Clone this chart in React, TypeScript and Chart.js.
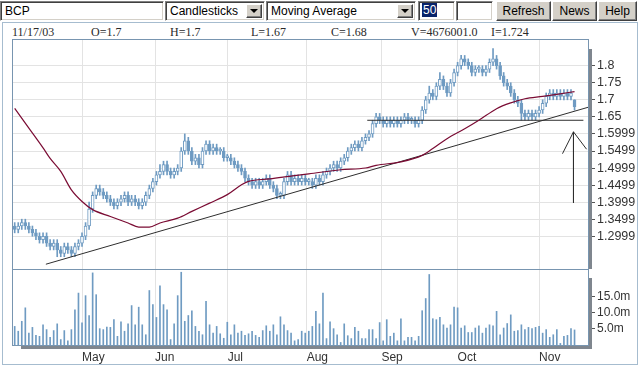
import React, { useEffect, useRef } from 'react';
import { Chart, registerables } from 'chart.js';

Chart.register(...registerables);

// ---- Data, trading-day index 0..158 ----
const opens = [
  1.33, 1.32, 1.33, 1.34, 1.33, 1.32, 1.31, 1.30, 1.29, 1.30,
  1.28, 1.27, 1.28, 1.26, 1.25, 1.27, 1.26, 1.25, 1.27, 1.28,
  1.30, 1.33, 1.38, 1.42, 1.44, 1.43, 1.42, 1.41, 1.40, 1.39,
  1.40, 1.41, 1.42, 1.40, 1.41, 1.40, 1.39, 1.40, 1.42, 1.44,
  1.46, 1.48, 1.49, 1.51, 1.49, 1.48, 1.49, 1.50, 1.55, 1.58,
  1.55, 1.52, 1.53, 1.51, 1.55, 1.57, 1.55, 1.56, 1.55, 1.55,
  1.53, 1.53, 1.52, 1.51, 1.50, 1.49, 1.47, 1.46, 1.45, 1.46,
  1.45, 1.46, 1.47, 1.45, 1.44, 1.42, 1.42, 1.46, 1.48, 1.46,
  1.47, 1.46, 1.47, 1.46, 1.46, 1.45, 1.47, 1.46, 1.48, 1.49,
  1.50, 1.51, 1.50, 1.52, 1.53, 1.55, 1.56, 1.57, 1.56, 1.58,
  1.59, 1.60, 1.63, 1.65, 1.64, 1.63, 1.64, 1.63, 1.64, 1.63,
  1.64, 1.65, 1.64, 1.64, 1.63, 1.64, 1.67, 1.70, 1.72, 1.71,
  1.74, 1.76, 1.74, 1.72, 1.75, 1.78, 1.80, 1.82, 1.81, 1.80,
  1.78, 1.79, 1.79, 1.78, 1.79, 1.81, 1.82, 1.80, 1.77, 1.75,
  1.74, 1.72, 1.70, 1.69, 1.66, 1.65, 1.66, 1.65, 1.66, 1.67,
  1.69, 1.71, 1.72, 1.71, 1.72, 1.71, 1.72, 1.71, 1.70,
];
const highs = [
  1.34, 1.34, 1.35, 1.35, 1.34, 1.33, 1.32, 1.31, 1.31, 1.31,
  1.29, 1.29, 1.29, 1.27, 1.28, 1.28, 1.27, 1.28, 1.29, 1.31,
  1.34, 1.40, 1.43, 1.45, 1.45, 1.44, 1.43, 1.42, 1.41, 1.41,
  1.42, 1.43, 1.43, 1.42, 1.42, 1.41, 1.41, 1.43, 1.45, 1.47,
  1.49, 1.51, 1.52, 1.52, 1.50, 1.50, 1.51, 1.56, 1.60, 1.59,
  1.56, 1.54, 1.54, 1.56, 1.58, 1.58, 1.57, 1.57, 1.56, 1.56,
  1.54, 1.54, 1.53, 1.52, 1.51, 1.50, 1.48, 1.47, 1.47, 1.47,
  1.47, 1.48, 1.48, 1.46, 1.45, 1.43, 1.47, 1.49, 1.49, 1.48,
  1.48, 1.48, 1.48, 1.47, 1.47, 1.48, 1.48, 1.49, 1.50, 1.51,
  1.52, 1.52, 1.53, 1.54, 1.56, 1.57, 1.58, 1.58, 1.59, 1.60,
  1.61, 1.64, 1.66, 1.66, 1.65, 1.65, 1.65, 1.65, 1.65, 1.65,
  1.66, 1.66, 1.65, 1.65, 1.65, 1.68, 1.71, 1.74, 1.73, 1.75,
  1.78, 1.77, 1.75, 1.76, 1.79, 1.81, 1.83, 1.83, 1.82, 1.81,
  1.80, 1.80, 1.80, 1.80, 1.82, 1.85, 1.83, 1.81, 1.78, 1.76,
  1.75, 1.73, 1.71, 1.70, 1.67, 1.67, 1.67, 1.67, 1.68, 1.70,
  1.72, 1.73, 1.73, 1.73, 1.73, 1.73, 1.73, 1.73, 1.70,
];
const lows = [
  1.31, 1.31, 1.32, 1.32, 1.31, 1.30, 1.29, 1.28, 1.28, 1.27,
  1.26, 1.26, 1.24, 1.24, 1.24, 1.25, 1.24, 1.24, 1.26, 1.27,
  1.29, 1.32, 1.37, 1.41, 1.42, 1.41, 1.40, 1.39, 1.38, 1.38,
  1.39, 1.40, 1.39, 1.39, 1.39, 1.38, 1.38, 1.39, 1.41, 1.43,
  1.45, 1.47, 1.48, 1.48, 1.47, 1.47, 1.48, 1.49, 1.54, 1.54,
  1.51, 1.51, 1.50, 1.50, 1.54, 1.54, 1.54, 1.54, 1.54, 1.52,
  1.52, 1.51, 1.50, 1.49, 1.48, 1.46, 1.45, 1.44, 1.44, 1.44,
  1.44, 1.45, 1.44, 1.43, 1.41, 1.41, 1.41, 1.45, 1.45, 1.45,
  1.45, 1.45, 1.45, 1.45, 1.44, 1.44, 1.45, 1.45, 1.47, 1.48,
  1.49, 1.49, 1.49, 1.51, 1.52, 1.54, 1.55, 1.55, 1.55, 1.57,
  1.58, 1.59, 1.62, 1.63, 1.62, 1.62, 1.62, 1.62, 1.62, 1.62,
  1.63, 1.63, 1.63, 1.62, 1.62, 1.63, 1.66, 1.69, 1.70, 1.70,
  1.73, 1.73, 1.71, 1.71, 1.74, 1.77, 1.79, 1.80, 1.79, 1.77,
  1.77, 1.78, 1.77, 1.77, 1.78, 1.80, 1.79, 1.76, 1.74, 1.73,
  1.71, 1.69, 1.68, 1.64, 1.64, 1.64, 1.64, 1.64, 1.65, 1.66,
  1.68, 1.70, 1.70, 1.70, 1.70, 1.70, 1.70, 1.70, 1.67,
];
const closes = [
  1.32, 1.33, 1.34, 1.33, 1.32, 1.31, 1.30, 1.29, 1.30, 1.28,
  1.27, 1.28, 1.26, 1.25, 1.27, 1.26, 1.25, 1.27, 1.28, 1.30,
  1.33, 1.38, 1.42, 1.44, 1.43, 1.42, 1.41, 1.40, 1.39, 1.40,
  1.41, 1.42, 1.40, 1.41, 1.40, 1.39, 1.40, 1.42, 1.44, 1.46,
  1.48, 1.49, 1.51, 1.49, 1.48, 1.49, 1.50, 1.55, 1.58, 1.55,
  1.52, 1.53, 1.51, 1.55, 1.57, 1.55, 1.56, 1.55, 1.55, 1.53,
  1.53, 1.52, 1.51, 1.50, 1.49, 1.47, 1.46, 1.45, 1.46, 1.45,
  1.46, 1.47, 1.45, 1.44, 1.42, 1.42, 1.46, 1.48, 1.46, 1.47,
  1.46, 1.47, 1.46, 1.46, 1.45, 1.47, 1.46, 1.48, 1.49, 1.50,
  1.51, 1.50, 1.52, 1.53, 1.55, 1.56, 1.57, 1.56, 1.58, 1.59,
  1.60, 1.63, 1.65, 1.64, 1.63, 1.64, 1.63, 1.64, 1.63, 1.64,
  1.65, 1.64, 1.64, 1.63, 1.64, 1.67, 1.70, 1.72, 1.71, 1.74,
  1.76, 1.74, 1.72, 1.75, 1.78, 1.80, 1.82, 1.81, 1.80, 1.78,
  1.79, 1.79, 1.78, 1.79, 1.81, 1.82, 1.80, 1.77, 1.75, 1.74,
  1.72, 1.70, 1.69, 1.66, 1.65, 1.66, 1.65, 1.66, 1.67, 1.69,
  1.71, 1.72, 1.71, 1.72, 1.71, 1.72, 1.71, 1.72, 1.68,
];
// volume in millions
const volumes = [
  5.8, 4.3, 7.4, 11.6, 3.7, 5.5, 3.0, 2.7, 6.3, 4.8,
  2.4, 4.5, 6.6, 1.7, 4.5, 1.3, 4.8, 11.0, 16.2, 6.9,
  15.4, 9.2, 22.5, 15.7, 5.1, 4.8, 5.6, 5.5, 7.9, 2.7,
  7.2, 4.3, 6.6, 12.3, 6.3, 11.8, 6.3, 3.2, 17.0, 12.6,
  8.6, 18.5, 12.6, 11.0, 1.7, 6.6, 15.4, 22.7, 7.4, 9.2,
  10.7, 5.8, 4.3, 3.2, 13.6, 6.3, 3.7, 5.8, 3.5, 2.1,
  7.1, 3.2, 6.3, 3.7, 4.3, 3.0, 3.5, 4.3, 3.0, 2.4,
  4.5, 6.0, 4.3, 6.3, 3.2, 8.8, 6.3, 4.5, 3.7, 1.3,
  1.7, 4.3, 3.7, 4.3, 5.8, 10.5, 6.6, 16.2, 2.0, 7.2,
  5.1, 3.2, 0.8, 6.6, 2.9, 2.0, 5.5, 4.3, 2.0, 2.0,
  4.8, 4.8, 2.0, 7.0, 1.3, 7.9, 2.7, 3.7, 1.3, 8.2,
  1.3, 2.4, 2.4, 1.3, 2.7, 10.7, 14.5, 22.0, 8.2, 7.9,
  8.6, 6.3, 5.3, 6.3, 11.8, 11.6, 5.3, 6.0, 3.9, 3.9,
  5.3, 6.0, 3.7, 5.3, 6.3, 6.0, 10.5, 3.2, 5.3, 6.7,
  9.4, 4.3, 4.5, 6.3, 4.8, 5.5, 5.1, 5.5, 5.8, 3.7,
  4.8, 2.4, 3.2, 4.8, 0.5, 2.7, 3.0, 5.1, 4.7,
];
// 50-day moving average, read at selected days
const maDays = [0, 4, 8, 10, 13, 16, 19, 22, 27, 32, 35, 38, 41, 46, 50, 55, 60, 64, 66, 72, 79, 83, 92, 99, 102, 109, 115, 118, 122, 127, 131, 136, 140, 144, 149, 153, 158];
const maValues = [1.675, 1.617, 1.559, 1.528, 1.49, 1.436, 1.402, 1.378, 1.358, 1.339, 1.327, 1.327, 1.339, 1.353, 1.373, 1.397, 1.422, 1.451, 1.461, 1.468, 1.478, 1.483, 1.495, 1.5, 1.508, 1.518, 1.537, 1.557, 1.586, 1.615, 1.64, 1.674, 1.691, 1.703, 1.71, 1.716, 1.724];
// drawn annotations: support trend line, resistance line, arrow
const trendDays = [8.8, 161.8];
const trendValues = [1.218, 1.678];
const resistDays = [99.5, 160.5];
const resistValues = [1.64, 1.64];
const arrowDays = [154.6, 157.7, 157.7, 157.7, 157.7, 161.4];
const arrowValues = [1.542, 1.606, 1.398, null, 1.606, 1.555];

const monthLabels = ['May', 'Jun', 'Jul', 'Aug', 'Sep', 'Oct', 'Nov'];
const monthStarts = [19, 39.6, 60.1, 82.4, 103.5, 125, 148];
const priceTicks = [1.2999, 1.3499, 1.3999, 1.4499, 1.4999, 1.5499, 1.5999, 1.65, 1.7, 1.75, 1.8];
const priceTickLabels = ['1.2999', '1.3499', '1.3999', '1.4499', '1.4999', '1.5499', '1.5999', '1.65', '1.7', '1.75', '1.8'];
const volTicks = [5, 10, 15];
const volTickLabels = ['5.0m', '10.0m', '15.0m'];

const infoItems = ['11/17/03', 'O=1.7', 'H=1.7', 'L=1.67', 'C=1.68', 'V=4676001.0', 'I=1.724'];

const CANDLE = '#6f9bc2';
const GRID = '#e3e3e3';
const MA_COLOR = '#7a0b33';
const LINE_DARK = '#2e2e2e';
const FRAME = '#7895b0';
const SHADOW = '#7f868e';
const SANS = '"Liberation Sans", Arial, Helvetica, sans-serif';
const X_MIN = -0.76;
const X_MAX = 161.8;

const monthTicksHook = (axis: any) => {
  axis.ticks = monthStarts.map((v) => ({ value: v }));
};
const noPad = (a: any) => {
  a.paddingLeft = 0;
  a.paddingRight = 0;
  a.paddingTop = 0;
  a.paddingBottom = 0;
};

const insetBox: React.CSSProperties = {
  position: 'absolute',
  boxSizing: 'border-box',
  background: '#fff',
  borderTop: '1px solid #808080',
  borderLeft: '1px solid #808080',
  borderBottom: '1px solid #ffffff',
  borderRight: '1px solid #ffffff',
  boxShadow: 'inset 1px 1px 0 #404040, inset -1px -1px 0 #d4d0c8',
  font: `12px ${SANS}`,
  color: '#000',
  top: 1,
  height: 20,
  whiteSpace: 'nowrap',
  overflow: 'hidden',
};

const raised: React.CSSProperties = {
  position: 'absolute',
  boxSizing: 'border-box',
  background: '#d4d0c8',
  borderTop: '1px solid #ffffff',
  borderLeft: '1px solid #ffffff',
  borderBottom: '1px solid #404040',
  borderRight: '1px solid #404040',
  boxShadow: 'inset -1px -1px 0 #808080',
  font: `12px ${SANS}`,
  color: '#000',
  display: 'flex',
  alignItems: 'center',
  justifyContent: 'center',
};

function DropButton() {
  return (
    <div style={{ ...raised, right: 2, top: 2, width: 16, height: 14 }}>
      <div style={{ width: 0, height: 0, borderLeft: '4px solid transparent', borderRight: '4px solid transparent', borderTop: '4px solid #000' }} />
    </div>
  );
}

export default function App() {
  const priceRef = useRef<HTMLCanvasElement>(null);
  const volRef = useRef<HTMLCanvasElement>(null);

  useEffect(() => {
    const idx = closes.map((_, i) => i);
    const tickFont = { family: SANS, size: 12.5 };

    const priceChart = new Chart(priceRef.current!, {
      type: 'bar',
      data: {
        datasets: [
          {
            type: 'line',
            data: maDays.map((d, i) => ({ x: d, y: maValues[i] })),
            borderColor: MA_COLOR,
            borderWidth: 1.2,
            pointRadius: 0,
            cubicInterpolationMode: 'monotone',
            order: 0,
          } as any,
          {
            type: 'line',
            data: trendDays.map((d, i) => ({ x: d, y: trendValues[i] })),
            borderColor: LINE_DARK,
            borderWidth: 1,
            pointRadius: 0,
            order: 0,
          } as any,
          {
            type: 'line',
            data: resistDays.map((d, i) => ({ x: d, y: resistValues[i] })),
            borderColor: LINE_DARK,
            borderWidth: 1,
            pointRadius: 0,
            order: 0,
          } as any,
          {
            type: 'line',
            data: arrowDays.map((d, i) => ({ x: d, y: arrowValues[i] })),
            borderColor: LINE_DARK,
            borderWidth: 1,
            pointRadius: 0,
            spanGaps: false,
            order: 0,
          } as any,
          {
            type: 'bar',
            data: idx.map((i) => ({ x: i, y: [Math.min(opens[i], closes[i]), Math.max(opens[i], closes[i])] })),
            backgroundColor: idx.map((i) => (closes[i] >= opens[i] ? '#ffffff' : CANDLE)),
            borderColor: CANDLE,
            borderWidth: 1,
            borderSkipped: false,
            barThickness: 3,
            minBarLength: 2,
            grouped: false,
            order: 1,
          } as any,
          {
            type: 'bar',
            data: idx.map((i) => ({ x: i, y: [lows[i], highs[i]] })),
            backgroundColor: CANDLE,
            borderWidth: 0,
            barThickness: 1,
            grouped: false,
            order: 2,
          } as any,
        ],
      },
      options: {
        animation: false,
        responsive: false,
        devicePixelRatio: 1,
        events: [],
        layout: { padding: { left: 12, top: 1, right: 0, bottom: 0 } },
        plugins: { legend: { display: false }, tooltip: { enabled: false } },
        scales: {
          x: {
            type: 'linear',
            offset: false,
            min: X_MIN,
            max: X_MAX,
            afterBuildTicks: monthTicksHook,
            afterFit: (a: any) => { a.height = 0; noPad(a); },
            ticks: { display: false, autoSkip: false },
            grid: { color: GRID, drawTicks: false, offset: false },
            border: { display: false },
          },
          y: {
            position: 'right',
            min: 1.204,
            max: 1.8753,
            afterBuildTicks: (a: any) => { a.ticks = priceTicks.map((v) => ({ value: v })); },
            afterFit: (a: any) => { a.width = 50; noPad(a); },
            ticks: {
              autoSkip: false,
              padding: 2,
              color: '#333',
              font: tickFont,
              callback: (_v: any, i: number) => priceTickLabels[i],
            },
            grid: { color: GRID, tickColor: '#555', tickLength: 7, drawTicks: true },
            border: { display: false },
          },
        },
      } as any,
    });

    const volChart = new Chart(volRef.current!, {
      type: 'bar',
      data: {
        datasets: [
          {
            data: idx.map((i) => ({ x: i, y: volumes[i] })),
            backgroundColor: CANDLE,
            borderWidth: 0,
            barThickness: 1,
          } as any,
        ],
      },
      options: {
        animation: false,
        responsive: false,
        devicePixelRatio: 1,
        events: [],
        layout: { padding: { left: 12, top: 1, right: 0, bottom: 0 } },
        plugins: { legend: { display: false }, tooltip: { enabled: false } },
        scales: {
          x: {
            type: 'linear',
            offset: false,
            min: X_MIN,
            max: X_MAX,
            afterBuildTicks: monthTicksHook,
            afterFit: (a: any) => { a.height = 20; noPad(a); },
            ticks: {
              autoSkip: false,
              maxRotation: 0,
              align: 'start',
              padding: 5,
              color: '#333',
              font: { family: SANS, size: 12 },
              callback: (_v: any, i: number) => monthLabels[i],
            },
            grid: { color: GRID, drawTicks: false, offset: false },
            border: { display: false },
          },
          y: {
            position: 'right',
            min: 0,
            max: 23.4,
            afterBuildTicks: (a: any) => { a.ticks = volTicks.map((v) => ({ value: v })); },
            afterFit: (a: any) => { a.width = 50; noPad(a); },
            ticks: {
              autoSkip: false,
              padding: 2,
              color: '#333',
              font: { family: SANS, size: 12 },
              callback: (_v: any, i: number) => volTickLabels[i],
            },
            grid: { drawOnChartArea: false, tickColor: '#555', tickLength: 7, drawTicks: true },
            border: { display: false },
          },
        },
      } as any,
    });

    return () => {
      priceChart.destroy();
      volChart.destroy();
    };
  }, []);

  const infoX = [12, 91, 170, 251, 331, 411, 491];

  return (
    <div style={{ position: 'fixed', left: 0, top: 0, width: 638, height: 365, background: '#fff', overflow: 'hidden' }}>
      {/* toolbar */}
      <div style={{ ...insetBox, left: 0, width: 164, paddingLeft: 4, lineHeight: '18px' }}>BCP</div>
      <div style={{ ...insetBox, left: 165, width: 100, paddingLeft: 4, lineHeight: '18px' }}>
        Candlesticks
        <DropButton />
      </div>
      <div style={{ ...insetBox, left: 266, width: 150, paddingLeft: 4, lineHeight: '18px' }}>
        Moving Average
        <DropButton />
      </div>
      <div style={{ ...insetBox, left: 418, width: 37, paddingLeft: 3 }}>
        <span style={{ position: 'absolute', left: 3, top: 1, height: 14, lineHeight: '14px', background: '#0a246a', color: '#fff', padding: '0 1px' }}>50</span>
      </div>
      <div style={{ ...insetBox, left: 456, width: 37 }} />
      <div style={{ ...raised, left: 496, top: 1, width: 55, height: 20 }}>Refresh</div>
      <div style={{ ...raised, left: 552, top: 1, width: 45, height: 20 }}>News</div>
      <div style={{ ...raised, left: 598, top: 1, width: 39, height: 20 }}>Help</div>

      {/* outer frame */}
      <div style={{ position: 'absolute', left: 2, top: 22, width: 636, height: 343, boxSizing: 'border-box', border: '1px solid #a6bccf' }} />

      {/* info row */}
      {infoItems.map((t, i) => (
        <div key={t} style={{ position: 'absolute', left: infoX[i], top: 26, font: '12px "Liberation Serif", "Times New Roman", serif', lineHeight: '12px', color: '#2a2a2a', whiteSpace: 'nowrap' }}>{t}</div>
      ))}

      {/* charts */}
      <canvas ref={priceRef} width={638} height={230} style={{ position: 'absolute', left: 0, top: 39, width: 638, height: 230 }} />
      <canvas ref={volRef} width={638} height={96} style={{ position: 'absolute', left: 0, top: 269, width: 638, height: 96 }} />

      {/* panel frames and 3D shadows */}
      <div style={{ position: 'absolute', left: 12, top: 39, width: 577, height: 231, boxSizing: 'border-box', border: `1px solid ${FRAME}`, pointerEvents: 'none' }} />
      <div style={{ position: 'absolute', left: 589, top: 49, width: 3, height: 220, background: SHADOW }} />
      <div style={{ position: 'absolute', left: 12, top: 269, width: 577, height: 77, boxSizing: 'border-box', border: `1px solid ${FRAME}`, pointerEvents: 'none' }} />
      <div style={{ position: 'absolute', left: 589, top: 278, width: 3, height: 71, background: SHADOW }} />
      <div style={{ position: 'absolute', left: 21, top: 346, width: 571, height: 3, background: SHADOW }} />
    </div>
  );
}
